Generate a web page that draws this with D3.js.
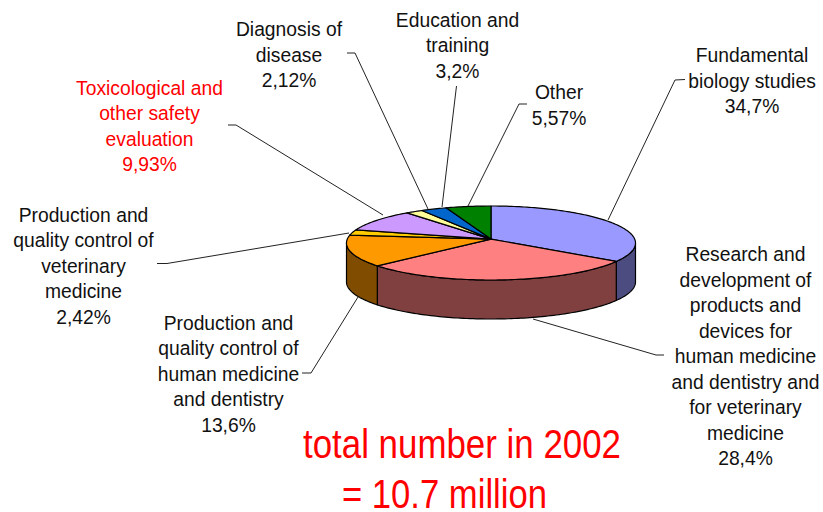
<!DOCTYPE html>
<html>
<head>
<meta charset="utf-8">
<script src="https://cdn.jsdelivr.net/npm/d3@7/dist/d3.min.js"></script>
<style>
html, body { margin: 0; padding: 0; background: #fff; }
svg { display: block; }
text { font-family: "Liberation Sans", Arial, sans-serif; }
</style>
</head>
<body>
<svg id="chart" width="823" height="512"></svg>
<script>
// Uses of laboratory animals, share per purpose (percent), clockwise from 12 o'clock
const purposes = [
  "Fundamental biology studies",
  "Research and development",
  "Production human medicine",
  "Production veterinary medicine",
  "Toxicological and safety",
  "Diagnosis of disease",
  "Education and training",
  "Other"
];
const shares = [34.7, 28.4, 13.6, 2.42, 9.93, 2.12, 3.2, 5.57];
const topColours = ["#9999ff", "#ff8080", "#ff9900", "#ffcc00", "#cc99ff", "#ffff99", "#0066cc", "#008000"];
const wallColours = ["#4c4c80", "#804040", "#804c00", "#806600", "#664c80", "#80804c", "#003366", "#004000"];

const labelLines = [
  ["Fundamental", "biology studies", "34,7%"],
  ["Research and", "development of", "products and", "devices for", "human medicine", "and dentistry and", "for veterinary", "medicine", "28,4%"],
  ["Production and", "quality control of", "human medicine", "and dentistry", "13,6%"],
  ["Production and", "quality control of", "veterinary", "medicine", "2,42%"],
  ["Toxicological and", "other safety", "evaluation", "9,93%"],
  ["Diagnosis of", "disease", "2,12%"],
  ["Education and", "training", "3,2%"],
  ["Other", "5,57%"]
];
const labelColours = ["#111", "#111", "#111", "#111", "#ff0000", "#111", "#111", "#111"];
// Anchor of each label block: centre x, baseline of the first line
const labelAnchors = [[752, 62], [745.5, 261], [228.5, 329.5], [83.5, 221.5], [149.5, 94.5], [289, 36], [457.5, 26.5], [559, 99]];
// Leader polylines from label to rim
const leaders = [
  [[685, 79.5], [675, 80], [608, 220]],
  [[664, 355], [656, 355], [533, 319]],
  [[302, 373], [311, 373], [358, 297]],
  [[157, 263.5], [167, 263.5], [349, 233]],
  [[228, 125], [236, 125], [383, 215]],
  [[347, 53], [355, 53], [428, 209]],
  [[456.5, 86], [442, 207]],
  [[527, 104], [519, 104], [468, 206]]
];

const svg = d3.select("#chart");
const cx = 491, cy = 243, rx = 144.5, ry = 37, depth = 39;
// Perspective squeeze of the far side of the disc: tan(a'/2) = squeeze * tan(a/2)
const squeeze = 0.9;

const project = a => {
  const t = Math.abs(Math.cos(a / 2)) < 1e-9 ? Math.PI : 2 * Math.atan(squeeze * Math.tan(a / 2));
  return [cx + rx * Math.sin(t), cy - ry * Math.cos(t)];
};
// Image of the disc centre under the same squeeze
const k = (1 - squeeze * squeeze) / (1 + squeeze * squeeze);
const apex = [cx, cy - ry * k];

const slices = d3.pie().sort(null).value(d => d)(shares);
const line = d3.line();
const rimPoints = (a0, a1) => {
  const n = Math.max(2, Math.ceil((a1 - a0) / 0.02));
  return d3.range(n + 1).map(i => project(a0 + (a1 - a0) * i / n));
};

// Angle on the disc whose projection sits at the widest point of the rim
const sideAngle = 2 * Math.atan(1 / squeeze);
const frontFrom = sideAngle, frontTo = 2 * Math.PI - sideAngle;

// Outer wall, only the part facing the viewer
const walls = svg.append("g");
slices.forEach((s, i) => {
  const a0 = Math.max(s.startAngle, frontFrom), a1 = Math.min(s.endAngle, frontTo);
  if (a1 <= a0) return;
  const upper = rimPoints(a0, a1);
  const lower = upper.map(([x, y]) => [x, y + depth]).reverse();
  walls.append("path")
    .attr("d", line(upper.concat(lower)) + "Z")
    .attr("fill", wallColours[i])
    .attr("stroke", "#000")
    .attr("stroke-width", 1.2)
    .attr("stroke-linejoin", "round");
});

// Top face
svg.append("g").selectAll("path").data(slices).join("path")
  .attr("d", s => line([apex].concat(rimPoints(s.startAngle, s.endAngle))) + "Z")
  .attr("fill", (s, i) => topColours[i])
  .attr("stroke", "#000")
  .attr("stroke-width", 1.2)
  .attr("stroke-linejoin", "round");

// Leader lines
svg.append("g").selectAll("path").data(leaders).join("path")
  .attr("d", d => line(d))
  .attr("fill", "none")
  .attr("stroke", "#222")
  .attr("stroke-width", 1);

// Category labels
const lineStep = 25.5;
labelLines.forEach((lines, i) => {
  const [x, y] = labelAnchors[i];
  const t = svg.append("text")
    .attr("text-anchor", "middle")
    .attr("font-size", 19.3)
    .attr("fill", labelColours[i]);
  lines.forEach((l, j) => {
    t.append("tspan").attr("x", x).attr("y", y + j * lineStep).text(l);
  });
});

// Total annotation, condensed to fit under the pie
const totals = [
  { text: "total number in 2002", x: 462, y: 458, width: 318 },
  { text: "= 10.7 million", x: 444.5, y: 508, width: 205 }
];
svg.append("g").selectAll("text").data(totals).join("text")
  .attr("x", d => d.x)
  .attr("y", d => d.y)
  .attr("text-anchor", "middle")
  .attr("font-size", 41)
  .attr("fill", "#ff0000")
  .attr("textLength", d => d.width)
  .attr("lengthAdjust", "spacingAndGlyphs")
  .text(d => d.text);
</script>
</body>
</html>
